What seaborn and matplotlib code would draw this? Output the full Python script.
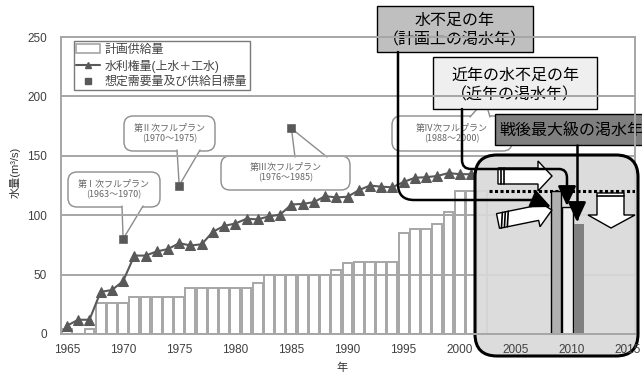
import numpy as np
import pandas as pd
import matplotlib
matplotlib.use('Agg')
import matplotlib.pyplot as plt
import seaborn as sns
from matplotlib.patches import FancyBboxPatch, Polygon, Patch, FancyArrowPatch
from matplotlib.lines import Line2D
from matplotlib.path import Path
from matplotlib.transforms import Affine2D

# 計画供給量 (m3/s)
supply_years = list(range(1965, 2003))
supply = [4, 0, 4, 26, 26, 26, 31, 31, 31, 31, 31, 39, 39, 39, 39, 39, 39, 43, 50, 50,
          50, 50, 50, 50, 54, 60, 61, 61, 61, 61, 85, 88, 88, 93, 103, 120, 120, 120]

# 水利権量(上水＋工水)
rights_years = list(range(1965, 2002))
rights = [7, 12, 12, 35.5, 37, 44.5, 66, 66, 69.5, 71.5, 76.5, 74.5, 75.5, 86, 91, 93, 97,
          96.5, 99, 100.5, 109, 109.5, 111, 116, 115, 115.5, 121, 125, 124, 123.5, 128,
          131.5, 132, 133, 135.5, 134.5, 134.5]

# 想定需要量及び供給目標量
plan_years = [1970, 1975, 1985]
plan_targets = [80, 125, 173]
plan_names = ['第Ⅰ次フルプラン\n(1963～1970)', '第Ⅱ次フルプラン\n(1970～1975)',
              '第Ⅲ次フルプラン\n(1976～1985)', '第Ⅳ次フルプラン\n(1988～2000)']

# 渇水年の供給可能量
drought_names = ['水不足の年\n（計画上の渇水年）', '近年の水不足の年\n（近年の渇水年）', '戦後最大級の渇水年']
drought_values = [120, 107, 93]

W, H = 642, 375
sns.set_style('white')
plt.rcParams['font.family'] = ['Liberation Sans', 'Noto Sans CJK JP']
plt.rcParams['axes.unicode_minus'] = False
cjk = ['Noto Sans CJK JP', 'DejaVu Sans']

fig = plt.figure(figsize=(W / 100, H / 100), dpi=100)
ax = fig.add_axes([61 / W, 1 - 334 / H, 574 / W, 297 / H])
pix = Affine2D().scale(1, -1).translate(0, H)   # 画像座標(上から)

grey = '#a6a6a6'
dark = '#595959'

# 棒グラフ・折れ線・点
sns.barplot(x=supply_years, y=supply, native_scale=True, width=0.88, color='white',
            saturation=1, edgecolor=grey, linewidth=1.4, errorbar=None, ax=ax, zorder=1)
sns.lineplot(x=rights_years, y=rights, marker='^', markersize=6.5, color=dark,
             markeredgecolor=dark, linewidth=1.5, ax=ax, zorder=4)
sns.scatterplot(x=plan_years, y=plan_targets, marker='s', s=30, color=dark,
                edgecolor=dark, ax=ax, zorder=4)

ax.set_xlim(1964.465, 2015.62)
ax.set_ylim(0, 250)
ax.set_xticks(range(1965, 2016, 5))
ax.set_xticks(np.arange(1964.5, 2016, 1), minor=True)
ax.set_yticks(range(0, 251, 50))
ax.tick_params(axis='x', which='major', length=0, pad=7, labelsize=8.5, labelcolor='#404040')
ax.tick_params(axis='x', which='minor', length=3, width=1, direction='in', color=grey)
ax.tick_params(axis='y', length=0, pad=10, labelsize=8.5, labelcolor='#404040')
ax.yaxis.grid(True, color=grey, lw=1.4)
ax.yaxis.set_zorder(3)
ax.xaxis.set_zorder(8)
for s in ax.spines.values():
    s.set_color(grey)
    s.set_linewidth(1.4)
    s.set_zorder(3)
ax.spines['bottom'].set_zorder(8)

ax.set_ylabel('水量(m³/s)', fontsize=8, color='#333333')
ax.yaxis.set_label_coords(-0.07, 0.545)
ax.set_xlabel('年', fontsize=8, color='#333333')
ax.xaxis.set_label_coords(0.49, -0.095)

# 凡例
handles = [Patch(facecolor='white', edgecolor=grey, lw=1.2),
           Line2D([], [], color=dark, marker='^', markersize=5, lw=1.5),
           Line2D([], [], color=dark, marker='s', markersize=5, lw=0)]
leg = ax.legend(handles, ['計画供給量', '水利権量(上水＋工水)', '想定需要量及び供給目標量'],
                loc='upper left', bbox_to_anchor=(0.022, 0.985), fontsize=8.6, frameon=True,
                fancybox=False, edgecolor=dark, borderpad=0.2, labelspacing=0.3,
                handlelength=2.0, handletextpad=0.4, borderaxespad=0)
leg.get_frame().set_linewidth(1)
for t in leg.get_texts():
    t.set_color('#444444')
leg.set_zorder(4)


def d2p(x, y):
    dx, dy = ax.transData.transform((x, y))
    return dx, H - dy


def bubble(x0, y0, x1, y1, text, bx, by, tip):
    ax.add_patch(FancyBboxPatch((x0, y0), x1 - x0, y1 - y0, boxstyle='round,pad=0,rounding_size=9',
                                transform=pix, fc='white', ec='#8c8c8c', lw=1, zorder=0.8, clip_on=False))
    ax.add_patch(Polygon([(bx[0], by), (bx[1], by), tip], closed=True, transform=pix,
                         fc='white', ec='none', zorder=0.9, clip_on=False))
    ax.add_line(Line2D([bx[0], tip[0], bx[1]], [by, tip[1], by], transform=pix,
                       color='#8c8c8c', lw=1, zorder=0.95, clip_on=False))
    ax.text((x0 + x1) / 2, (y0 + y1) / 2, text, transform=pix, ha='center', va='center',
            fontsize=6.5, color='#666666', linespacing=1.15, family=cjk, zorder=0.96)


bubble(68, 172, 160, 207, plan_names[0], (122, 143), 206, d2p(plan_years[0], plan_targets[0]))
bubble(124, 116, 215, 151, plan_names[1], (177, 200), 150, d2p(plan_years[1], plan_targets[1]))
bubble(221, 156, 350, 190, plan_names[2], (295, 327), 157, d2p(plan_years[2], plan_targets[2]))
bubble(392, 116, 512, 151, plan_names[3], (470, 490), 117, (485, 100))

# ラベルの箱
def label_box(x0, y0, x1, y1, fc, text, tx, ty, ha='center'):
    ax.add_patch(FancyBboxPatch((x0, y0), x1 - x0, y1 - y0, boxstyle='square,pad=0',
                                transform=pix, fc=fc, ec='black', lw=1, zorder=1.5, clip_on=False))
    ax.text(tx, ty, text, transform=pix, ha=ha, va='center', fontsize=11.5, color='black',
            linespacing=1.2, family=cjk, zorder=1.6, clip_on=False)


label_box(377, 6, 533, 52, '#bfbfbf', drought_names[0], 455, 30)
label_box(433, 57, 597, 109, '#efefef', drought_names[1], 515, 85)
label_box(495, 114, 670, 145, '#7f7f7f', drought_names[2], 499, 130, ha='left')

# 右側の灰色の枠
ax.add_patch(FancyBboxPatch((475, 155), 163, 201, boxstyle='round,pad=0,rounding_size=22',
                            transform=pix, fc=(0.85, 0.85, 0.85, 0.9), ec='black', lw=2.2,
                            zorder=5, clip_on=False))

ax.axhline(supply[-1], xmin=0.745, xmax=1, color='black', lw=2.2, ls=(0, (1, 0.8)), zorder=6)

ax.bar([2008.6, 2009.6, 2010.6], drought_values, width=0.9,
       color=['#b0b0b0', '#efefef', '#808080'], edgecolor=['black', 'black', 'none'],
       linewidth=1, zorder=6)

# 白抜き矢印
wkw = dict(transform=pix, fc='white', ec='black', lw=1, zorder=6.5, clip_on=False, joinstyle='miter')
ax.add_patch(Polygon([(498, 168), (538, 168), (538, 161), (552, 176), (538, 191), (538, 184), (498, 184)], **wkw))
for xx in (501, 504):
    ax.add_line(Line2D([xx, xx], [168, 184], transform=pix, color='black', lw=1.2, zorder=6.6))

ang = np.deg2rad(-11.5)
rot = np.array([[np.cos(ang), -np.sin(ang)], [np.sin(ang), np.cos(ang)]])
loc = np.array([(0, -7.5), (40, -7.5), (40, -14), (55, 0), (40, 14), (40, 7.5), (0, 7.5)])
pts = loc @ rot.T + np.array([498, 221])
ax.add_patch(Polygon(pts, **wkw))
for xx in (2, 5, 8):
    seg = np.array([(xx, 7.5), (xx + 4, -7.5)]) @ rot.T + np.array([498, 221])
    ax.add_line(Line2D(seg[:, 0], seg[:, 1], transform=pix, color='black', lw=1.2, zorder=6.6))

ax.add_patch(Polygon([(597, 193), (624, 193), (624, 215), (635, 215), (611, 228), (588, 215), (597, 215)], **wkw))
ax.add_line(Line2D([597, 624], [196, 196], transform=pix, color='black', lw=1.2, zorder=6.6))

# 黒い矢印
akw = dict(arrowstyle='-|>,head_length=1.2,head_width=0.55', mutation_scale=10, lw=1.8,
           color='black', transform=pix, zorder=7, clip_on=False)
M, L, C = Path.MOVETO, Path.LINETO, Path.CURVE3
ax.add_patch(FancyArrowPatch(path=Path([(398, 52), (398, 184), (398, 200), (414, 200), (535, 200), (551, 207)],
                                       [M, L, C, C, L, L]), **akw))
ax.add_patch(FancyArrowPatch(path=Path([(462, 109), (462, 160), (462, 169), (471, 169), (559, 169),
                                        (567, 169), (567, 178), (567, 206)],
                                       [M, L, C, C, L, C, C, L]), **akw))
ax.add_patch(FancyArrowPatch(path=Path([(577, 145), (577, 222)], [M, L]), **akw))

fig.savefig('out.png', dpi=100)
